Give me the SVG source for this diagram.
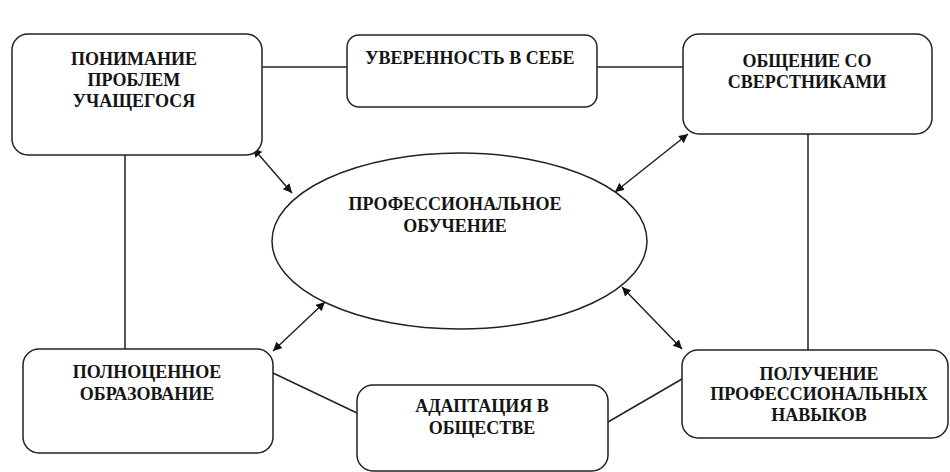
<svg xmlns="http://www.w3.org/2000/svg" width="950" height="472" viewBox="0 0 950 472">
<defs>
<style>
.box{fill:#fff;stroke:#222;stroke-width:1.5}
.t{font-family:'Liberation Serif','Times New Roman',serif;font-weight:bold;font-size:18px;fill:#141414;text-anchor:middle}
.ln{stroke:#222;stroke-width:1.5;fill:none}
</style>
<marker id="ah" viewBox="0 0 10 10" refX="10" refY="5" markerWidth="9" markerHeight="9" markerUnits="userSpaceOnUse" orient="auto-start-reverse">
<path d="M0,0 L10,5 L0,10 z" fill="#111"/>
</marker>
</defs>
<rect width="950" height="472" fill="#fff"/>
<g id="connectors">
<line class="ln" x1="262" y1="67" x2="347" y2="67"/>
<line class="ln" x1="597" y1="67" x2="683" y2="67"/>
<line class="ln" x1="125" y1="155" x2="125" y2="349"/>
<line class="ln" x1="808" y1="134" x2="808" y2="350"/>
<line class="ln" x1="273" y1="373" x2="357" y2="413"/>
<line class="ln" x1="608" y1="422" x2="682" y2="379"/>
<line class="ln" x1="253" y1="148" x2="292" y2="193" marker-start="url(#ah)" marker-end="url(#ah)"/>
<line class="ln" x1="688" y1="134" x2="615" y2="192" marker-start="url(#ah)" marker-end="url(#ah)"/>
<line class="ln" x1="325" y1="302" x2="273" y2="351" marker-start="url(#ah)" marker-end="url(#ah)"/>
<line class="ln" x1="622" y1="287" x2="682" y2="349" marker-start="url(#ah)" marker-end="url(#ah)"/>
</g>
<g id="n1"><rect class="box" x="12" y="34" width="250" height="121" rx="16"/>
<text class="t" x="134" y="65">ПОНИМАНИЕ</text><text class="t" x="134" y="86">ПРОБЛЕМ</text><text class="t" x="134" y="107">УЧАЩЕГОСЯ</text></g>
<g id="n2"><rect class="box" x="347" y="35" width="250" height="72" rx="12"/>
<text class="t" x="470" y="64">УВЕРЕННОСТЬ В СЕБЕ</text></g>
<g id="n3"><rect class="box" x="683" y="34" width="249" height="100" rx="16"/>
<text class="t" x="807" y="67">ОБЩЕНИЕ СО</text><text class="t" x="807" y="88">СВЕРСТНИКАМИ</text></g>
<g id="n4"><rect class="box" x="23" y="349" width="250" height="104" rx="16"/>
<text class="t" x="147" y="378">ПОЛНОЦЕННОЕ</text><text class="t" x="147" y="400">ОБРАЗОВАНИЕ</text></g>
<g id="n5"><rect class="box" x="357" y="385" width="251" height="86" rx="16"/>
<text class="t" x="482" y="412">АДАПТАЦИЯ В</text><text class="t" x="482" y="434">ОБЩЕСТВЕ</text></g>
<g id="n6"><rect class="box" x="682" y="350" width="266" height="88" rx="16"/>
<text class="t" x="819" y="380">ПОЛУЧЕНИЕ</text><text class="t" x="819" y="400">ПРОФЕССИОНАЛЬНЫХ</text><text class="t" x="819" y="421">НАВЫКОВ</text></g>
<g id="center"><ellipse class="box" cx="459.5" cy="241" rx="187.5" ry="88"/>
<text class="t" x="455" y="210">ПРОФЕССИОНАЛЬНОЕ</text><text class="t" x="455" y="232">ОБУЧЕНИЕ</text></g>
</svg>
